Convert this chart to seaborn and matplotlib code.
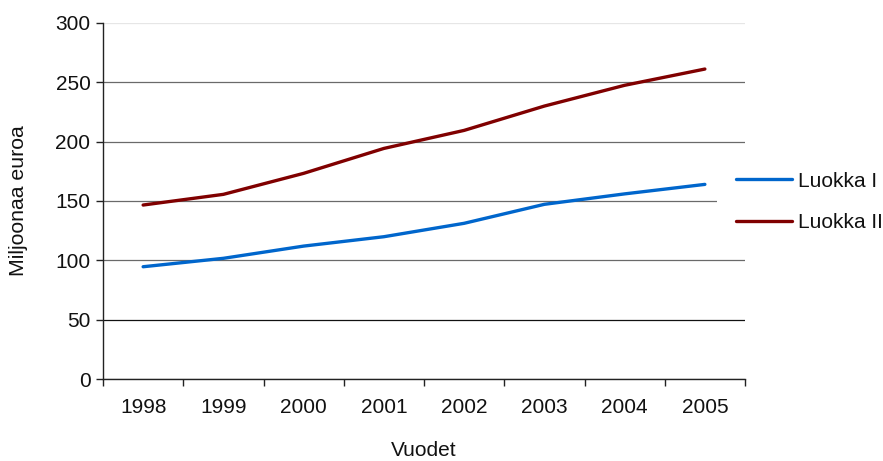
import matplotlib
matplotlib.use("Agg")
import matplotlib.pyplot as plt
import seaborn as sns
import pandas as pd
import numpy as np
from matplotlib.ticker import FixedLocator, NullFormatter, FixedFormatter

years = ["1998", "1999", "2000", "2001", "2002", "2003", "2004", "2005"]
luokka_1 = [94.6, 101.7, 112.0, 119.9, 131.2, 147.2, 156.0, 164.0]
luokka_2 = [146.6, 155.6, 173.3, 194.3, 209.5, 230.0, 247.5, 261.2]
series_names = ["Luokka I", "Luokka II"]
y_ticks = [0, 50, 100, 150, 200, 250, 300]

sns.set_theme(style="white")
plt.rcParams["font.family"] = ["Liberation Sans", "DejaVu Sans"]

df = pd.DataFrame({
    "x": list(range(len(years))) * 2,
    "Vuosi": years * 2,
    "value": luokka_1 + luokka_2,
    "series": [series_names[0]] * len(years) + [series_names[1]] * len(years),
})

fig = plt.figure(figsize=(8.83, 4.61), dpi=100)
ax = fig.add_axes([103 / 883, 1 - 379 / 461, (745 - 103) / 883, (379 - 23) / 461])

sns.lineplot(data=df, x="x", y="value", hue="series",
             palette={"Luokka I": "#0066CC", "Luokka II": "#800000"},
             linewidth=2.4, legend=False, ax=ax, zorder=3,
             solid_capstyle="round")

ax.set_xlim(-0.5, len(years) - 0.5)
ax.set_ylim(0, 300)
ax.set_yticks(y_ticks)
ax.set_yticklabels([str(v) for v in y_ticks])

# category boundaries as major ticks, labels centred on minor ticks
ax.xaxis.set_major_locator(FixedLocator(np.arange(-0.5, len(years), 1.0)))
ax.xaxis.set_major_formatter(NullFormatter())
ax.xaxis.set_minor_locator(FixedLocator(np.arange(len(years))))
ax.xaxis.set_minor_formatter(FixedFormatter(years))
ax.tick_params(axis="x", which="major", direction="out", length=5, width=1,
               color="#222222", bottom=True)
ax.tick_params(axis="x", which="minor", length=0, pad=14, labelsize=15,
               labelcolor="#111111", bottom=True)
ax.tick_params(axis="y", direction="out", length=5, width=1, color="#222222",
               left=True, labelsize=15, labelcolor="#111111", pad=4)

for s in ["top", "right"]:
    ax.spines[s].set_visible(False)
for s in ["left", "bottom"]:
    ax.spines[s].set_color("#222222")
    ax.spines[s].set_linewidth(1.0)

ax.yaxis.grid(True, color="#6a6a6a", linewidth=0.9)
ax.set_axisbelow(True)
gl = ax.get_ygridlines()
gl[-1].set_color("#e6e6e6")
gl[1].set_color("#111111")

ax.set_xlabel("Vuodet", fontsize=15, color="#111111", labelpad=17)
ax.set_ylabel("Miljoonaa euroa", fontsize=15.3, color="#111111", labelpad=20)

handles = ax.get_lines()[:2]
leg = fig.legend(handles, series_names, loc="center left",
                 bbox_to_anchor=(717 / 883, 1 - 202 / 461),
                 bbox_transform=fig.transFigure,
                 frameon=True, facecolor="white", edgecolor="none",
                 framealpha=1.0, fancybox=False,
                 fontsize=15, handlelength=2.7, handletextpad=0.3,
                 labelspacing=1.08, borderpad=0.9, borderaxespad=0)
for t in leg.get_texts():
    t.set_color("#111111")

fig.savefig("out.png", dpi=100, facecolor="white")
